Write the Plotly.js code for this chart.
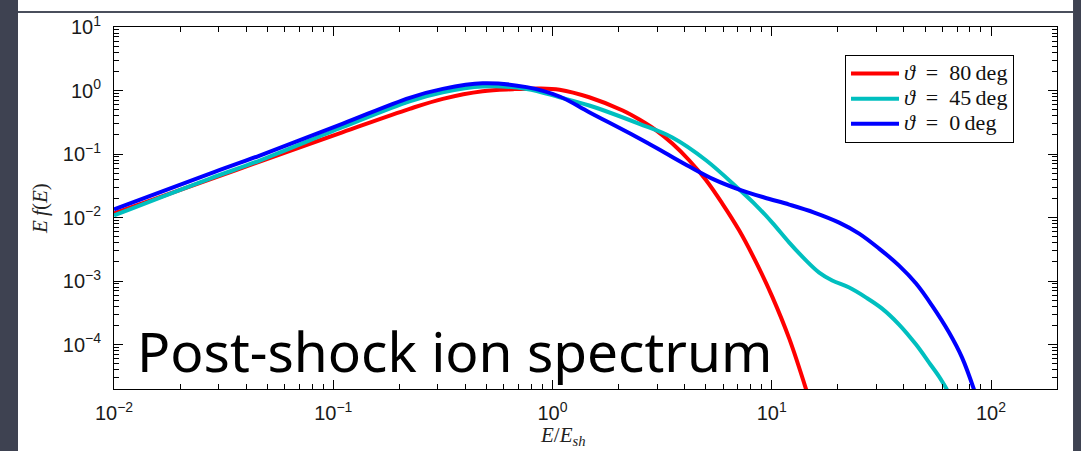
<!DOCTYPE html>
<html>
<head>
<meta charset="utf-8">
<script src="https://cdn.plot.ly/plotly-3.0.1.min.js"></script>
<style>
  html, body { margin: 0; padding: 0; background: #ffffff; }
  #chart { width: 1081px; height: 451px; }
</style>
</head>
<body>
<div id="chart"></div>
<script>
// ---- data (E/E_sh vs E f(E)) ----
const seriesNames = ["<i>ϑ</i>\u2002=\u200280\u2009deg", "<i>ϑ</i>\u2002=\u200245\u2009deg", "<i>ϑ</i>\u2002=\u20020\u2009deg"];

const xRed  = [0.01, 0.0274, 0.0462, 0.110, 0.223, 0.316, 0.480, 0.660, 0.873, 1.077, 1.47, 2.09, 2.49, 2.98, 3.52, 4.21, 5.03, 5.95, 7.11, 8.50, 10.05, 12.02, 14.36];
const yRed  = [0.0116, 0.0398, 0.0762, 0.220, 0.515, 0.740, 0.975, 1.05, 1.08, 1.03, 0.783, 0.484, 0.349, 0.234, 0.146, 0.0791, 0.0383, 0.0166, 0.00624, 0.00195, 0.00057, 0.000124, 1.95e-5];

const xCyan = [0.01, 0.0274, 0.0462, 0.110, 0.223, 0.316, 0.480, 0.762, 1.077, 1.47, 2.49, 3.52, 5.03, 7.11, 8.50, 10.05, 12.02, 14.36, 16.46, 18.87, 22.55, 26.95, 31.87, 38.09, 45.53, 52.19, 57.97, 63.03];
const yCyan = [0.0108, 0.0411, 0.0790, 0.264, 0.678, 0.940, 1.156, 1.06, 0.783, 0.581, 0.299, 0.182, 0.0791, 0.0276, 0.01545, 0.00834, 0.00404, 0.00210, 0.00136, 0.00102, 0.000791, 0.000550, 0.000369, 0.000207, 0.0001, 5.21e-5, 3.13e-5, 1.95e-5];

const xBlue = [0.01, 0.0274, 0.0462, 0.110, 0.223, 0.316, 0.480, 0.762, 1.077, 1.47, 2.49, 3.24, 4.21, 5.47, 7.11, 9.24, 12.02, 15.62, 20.30, 25.04, 30.88, 38.09, 45.53, 53.85, 64.39, 73.8, 83.7];
const yBlue = [0.0134, 0.0493, 0.0947, 0.299, 0.768, 1.06, 1.30, 1.13, 0.805, 0.455, 0.1754, 0.1056, 0.0636, 0.0396, 0.0276, 0.0207, 0.0160, 0.0120, 0.00834, 0.00560, 0.00325, 0.00175, 0.000914, 0.000411, 0.000155, 6.24e-5, 1.95e-5];

// ---- tick labels ----
const xTickVals = [0.01, 0.1, 1, 10, 100];
const xTickText = ["10<sup>−2</sup>", "10<sup>−1</sup>", "10<sup>0</sup>", "10<sup>1</sup>", "10<sup>2</sup>"];
const yTickVals = [1e-4, 1e-3, 1e-2, 1e-1, 1, 10];
const yTickText = ["10<sup>−4</sup>", "10<sup>−3</sup>", "10<sup>−2</sup>", "10<sup>−1</sup>", "10<sup>0</sup>", "10<sup>1</sup>"];

const colors = ["#ff0000", "#00bfbf", "#0000ff"];

function minorVals(lo, hi) {
  const out = [];
  for (let e = lo; e <= hi; e++) {
    for (let d = 2; d <= 9; d++) out.push(d * Math.pow(10, e));
  }
  return out;
}

const mkTrace = (x, y, i) => ({
  x: x, y: y, name: '<span style="font-size:22px">' + seriesNames[i] + '</span>',
  type: "scatter", mode: "lines",
  line: { color: colors[i], width: 4, shape: "spline", smoothing: 1 },
  hoverinfo: "skip"
});

const data = [mkTrace(xRed, yRed, 0), mkTrace(xCyan, yCyan, 1), mkTrace(xBlue, yBlue, 2)];

const tickFont = { family: "Liberation Sans, Arial, sans-serif", size: 20, color: "#1a1a1a" };
const dark = "#3e4251";

const layout = {
  width: 1081, height: 451,
  paper_bgcolor: "#ffffff", plot_bgcolor: "#ffffff",
  margin: { l: 114, r: 24, t: 27, b: 62 },
  showlegend: true,
  legend: {
    x: 0.7752, y: 0.9227, xanchor: "left", yanchor: "top",
    bgcolor: "#ffffff", bordercolor: "#000000", borderwidth: 1,
    font: { family: "Liberation Serif, Times New Roman, serif", size: 17, color: "#111" },
    itemwidth: 48, tracegroupgap: 0
  },
  xaxis: {
    type: "log", range: [-2, Math.log10(200)],
    tickmode: "array", tickvals: xTickVals, ticktext: xTickText,
    ticks: "inside", ticklen: 9, tickcolor: "#000", tickwidth: 1,
    minor: { tickmode: "array", tickvals: minorVals(-2, 2), ticks: "inside", ticklen: 5, tickcolor: "#000", tickwidth: 1 },
    showline: true, linecolor: "#000", linewidth: 1, mirror: "ticks",
    showgrid: false, zeroline: false,
    tickfont: tickFont, ticklabelstandoff: 6
  },
  yaxis: {
    type: "log", range: [Math.log10(2e-5), 1],
    tickmode: "array", tickvals: yTickVals, ticktext: yTickText,
    ticks: "inside", ticklen: 9, tickcolor: "#000", tickwidth: 1,
    minor: { tickmode: "array", tickvals: minorVals(-5, 0), ticks: "inside", ticklen: 5, tickcolor: "#000", tickwidth: 1 },
    showline: true, linecolor: "#000", linewidth: 1, mirror: "ticks",
    showgrid: false, zeroline: false,
    tickfont: tickFont, ticklabelstandoff: 8
  },
  annotations: [
    { xref: "paper", yref: "paper", x: 0.3606, y: 0.105, xanchor: "center", yanchor: "middle",
      text: "Post-shock ion spectrum", showarrow: false,
      font: { family: "Noto Sans, sans-serif", size: 55, color: "#000" } },
    { xref: "paper", yref: "paper", x: 0.476, y: -0.131, xanchor: "center", yanchor: "middle",
      text: "<i>E</i>/<i>E</i><sub><i>sh</i></sub>", showarrow: false,
      font: { family: "Liberation Serif, serif", size: 21, color: "#222" } },
    { xref: "paper", yref: "paper", x: -0.0785, y: 0.5, xanchor: "center", yanchor: "middle",
      text: "<i>E\u2009f</i>(<i>E</i>)", showarrow: false, textangle: -90,
      font: { family: "Liberation Serif, serif", size: 21, color: "#222" } }
  ],
  shapes: [
    { type: "rect", xref: "paper", yref: "paper", x0: -0.1300, x1: -0.1018, y0: -0.18, y1: 1.08,
      fillcolor: dark, line: { width: 0 }, layer: "below" },
    { type: "rect", xref: "paper", yref: "paper", x0: 1.0170, x1: 1.03, y0: -0.18, y1: 1.08,
      fillcolor: dark, line: { width: 0 }, layer: "below" },
    { type: "rect", xref: "paper", yref: "paper", x0: -0.1018, x1: 1.0170, y0: 1.0387, y1: 1.0442,
      fillcolor: "#4a4f5c", line: { width: 0 }, layer: "below" }
  ]
};

Plotly.newPlot("chart", data, layout, { staticPlot: true, displayModeBar: false });
</script>
</body>
</html>
